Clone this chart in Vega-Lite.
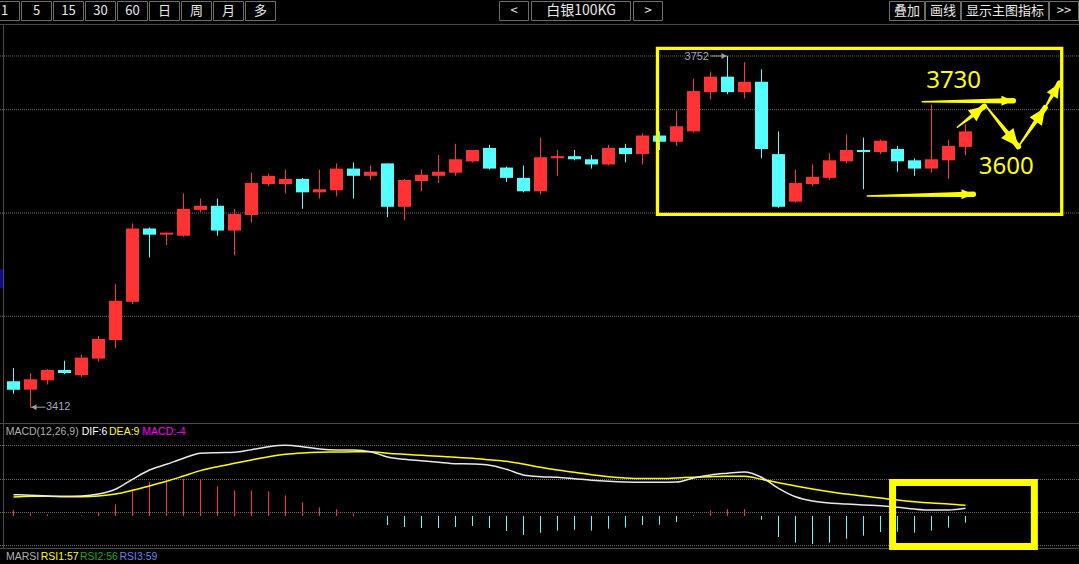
{
"$schema": "https://vega.github.io/schema/vega-lite/v6.json",
"width": 1079, "height": 564, "autosize": {"type": "none"}, "padding": 0,
"background": "#000000",
"config": {"view": {"stroke": null}, "axis": {"disable": true}, "legend": {"disable": true}},
"datasets": {
"candles": [
{"i":0,"o":3437,"h":3450,"l":3425,"c":3429},{"i":1,"o":3429,"h":3445,"l":3412,"c":3439},{"i":2,"o":3438,"h":3449,"l":3434,"c":3448},{"i":3,"o":3448,"h":3457,"l":3444,"c":3445},{"i":4,"o":3443,"h":3463,"l":3441,"c":3460},{"i":5,"o":3459,"h":3481,"l":3456,"c":3478},{"i":6,"o":3477,"h":3531,"l":3469,"c":3515},{"i":7,"o":3514,"h":3590,"l":3512,"c":3585},{"i":8,"o":3585,"h":3586,"l":3557,"c":3579},{"i":9,"o":3579,"h":3581,"l":3569,"c":3581},
{"i":10,"o":3578,"h":3619,"l":3577,"c":3604},{"i":11,"o":3603,"h":3614,"l":3601,"c":3607},{"i":12,"o":3607,"h":3614,"l":3578,"c":3583},{"i":13,"o":3583,"h":3604,"l":3559,"c":3599},{"i":14,"o":3598,"h":3639,"l":3591,"c":3629},{"i":15,"o":3628,"h":3638,"l":3626,"c":3636},{"i":16,"o":3628,"h":3642,"l":3619,"c":3633},{"i":17,"o":3633,"h":3634,"l":3604,"c":3620},{"i":18,"o":3620,"h":3642,"l":3614,"c":3623},{"i":19,"o":3622,"h":3648,"l":3616,"c":3643},
{"i":20,"o":3643,"h":3649,"l":3614,"c":3636},{"i":21,"o":3636,"h":3646,"l":3632,"c":3640},{"i":22,"o":3648,"h":3648,"l":3596,"c":3606},{"i":23,"o":3606,"h":3633,"l":3593,"c":3632},{"i":24,"o":3631,"h":3642,"l":3621,"c":3637},{"i":25,"o":3636,"h":3656,"l":3629,"c":3640},{"i":26,"o":3639,"h":3667,"l":3636,"c":3652},{"i":27,"o":3650,"h":3661,"l":3649,"c":3661},{"i":28,"o":3663,"h":3666,"l":3642,"c":3643},{"i":29,"o":3644,"h":3645,"l":3630,"c":3634},
{"i":30,"o":3634,"h":3646,"l":3620,"c":3621},{"i":31,"o":3621,"h":3673,"l":3618,"c":3654},{"i":32,"o":3653,"h":3661,"l":3636,"c":3655},{"i":33,"o":3655,"h":3661,"l":3651,"c":3652},{"i":34,"o":3652,"h":3656,"l":3643,"c":3647},{"i":35,"o":3647,"h":3666,"l":3646,"c":3663},{"i":36,"o":3663,"h":3667,"l":3649,"c":3657},{"i":37,"o":3657,"h":3677,"l":3647,"c":3675},{"i":38,"o":3675,"h":3679,"l":3661,"c":3669},{"i":39,"o":3669,"h":3699,"l":3665,"c":3684},
{"i":40,"o":3679,"h":3730,"l":3678,"c":3718},{"i":41,"o":3717,"h":3737,"l":3710,"c":3732},{"i":42,"o":3732,"h":3752,"l":3715,"c":3717},{"i":43,"o":3717,"h":3746,"l":3711,"c":3727},{"i":44,"o":3727,"h":3739,"l":3653,"c":3662},{"i":45,"o":3657,"h":3679,"l":3605,"c":3606},{"i":46,"o":3611,"h":3642,"l":3610,"c":3629},{"i":47,"o":3628,"h":3647,"l":3626,"c":3635},{"i":48,"o":3634,"h":3658,"l":3632,"c":3651},{"i":49,"o":3650,"h":3676,"l":3648,"c":3661},
{"i":50,"o":3661,"h":3673,"l":3623,"c":3659},{"i":51,"o":3659,"h":3671,"l":3657,"c":3670},{"i":52,"o":3662,"h":3665,"l":3640,"c":3650},{"i":53,"o":3651,"h":3653,"l":3636,"c":3643},{"i":54,"o":3643,"h":3705,"l":3639,"c":3652},{"i":55,"o":3651,"h":3671,"l":3633,"c":3665},{"i":56,"o":3664,"h":3686,"l":3656,"c":3679}],
"macd": [
{"i":0,"dif":17.8,"dea":15.8,"macd":5.0},{"i":1,"dif":17.3,"dea":16.4,"macd":2.2},{"i":2,"dif":16.7,"dea":16.4,"macd":1.4},{"i":3,"dif":16.4,"dea":16.1,"macd":0.3},{"i":4,"dif":16.7,"dea":16.1,"macd":0.6},{"i":5,"dif":18.3,"dea":16.7,"macd":3.3},{"i":6,"dif":22.3,"dea":18.3,"macd":9.7},{"i":7,"dif":30.6,"dea":21.4,"macd":22.2},{"i":8,"dif":38.3,"dea":25.0,"macd":28.3},{"i":9,"dif":43.1,"dea":28.9,"macd":29.7},
{"i":10,"dif":48.1,"dea":33.3,"macd":31.1},{"i":11,"dif":52.3,"dea":37.8,"macd":30.6},{"i":12,"dif":52.8,"dea":41.1,"macd":24.7},{"i":13,"dif":53.1,"dea":43.9,"macd":21.4},{"i":14,"dif":55.3,"dea":46.7,"macd":21.4},{"i":15,"dif":57.8,"dea":49.4,"macd":20.6},{"i":16,"dif":58.9,"dea":51.4,"macd":17.2},{"i":17,"dif":57.8,"dea":52.5,"macd":11.4},{"i":18,"dif":55.8,"dea":53.1,"macd":7.2},{"i":19,"dif":55.0,"dea":53.3,"macd":5.6},
{"i":20,"dif":55.0,"dea":53.6,"macd":2.2},{"i":21,"dif":53.6,"dea":53.6,"macd":0},{"i":22,"dif":49.2,"dea":52.3,"macd":-7.5},{"i":23,"dif":47.3,"dea":51.4,"macd":-9.2},{"i":24,"dif":46.1,"dea":50.6,"macd":-10.0},{"i":25,"dif":44.8,"dea":49.8,"macd":-10.0},{"i":26,"dif":43.6,"dea":48.9,"macd":-9.2},{"i":27,"dif":43.3,"dea":48.1,"macd":-8.3},{"i":28,"dif":42.3,"dea":46.9,"macd":-10.0},{"i":29,"dif":38.9,"dea":45.6,"macd":-12.5},
{"i":30,"dif":34.2,"dea":43.3,"macd":-15.8},{"i":31,"dif":32.8,"dea":40.6,"macd":-13.9},{"i":32,"dif":32.3,"dea":38.3,"macd":-12.2},{"i":33,"dif":31.1,"dea":36.4,"macd":-11.4},{"i":34,"dif":29.8,"dea":34.4,"macd":-12.2},{"i":35,"dif":28.9,"dea":32.8,"macd":-10.6},{"i":36,"dif":28.3,"dea":31.7,"macd":-9.7},{"i":37,"dif":28.1,"dea":31.2,"macd":-7.5},{"i":38,"dif":28.1,"dea":31.2,"macd":-7.2},{"i":39,"dif":28.3,"dea":31.7,"macd":-5.0},
{"i":40,"dif":31.7,"dea":32.3,"macd":0.8},{"i":41,"dif":34.2,"dea":32.8,"macd":4.7},{"i":42,"dif":35.6,"dea":33.1,"macd":5.8},{"i":43,"dif":36.7,"dea":33.1,"macd":5.8},{"i":44,"dif":32.3,"dea":30.6,"macd":-3.1},{"i":45,"dif":23.1,"dea":27.8,"macd":-17.5},{"i":46,"dif":16.1,"dea":25.0,"macd":-22.2},{"i":47,"dif":12.5,"dea":22.5,"macd":-23.3},{"i":48,"dif":10.8,"dea":20.3,"macd":-22.2},{"i":49,"dif":10.0,"dea":18.3,"macd":-18.9},
{"i":50,"dif":9.2,"dea":16.7,"macd":-16.4},{"i":51,"dif":8.6,"dea":15.0,"macd":-13.3},{"i":52,"dif":7.3,"dea":13.3,"macd":-13.1},{"i":53,"dif":5.8,"dea":11.9,"macd":-13.9},{"i":54,"dif":5.0,"dea":10.8,"macd":-12.2},{"i":55,"dif":5.0,"dea":10.0,"macd":-9.7},{"i":56,"dif":6.4,"dea":8.9,"macd":-5.6}],
"priceGrid": [{"p":3752},{"p":3700},{"p":3600},{"p":3500}],
"macdGrid": [{"v":58.75},{"v":30.42},{"v":2.92},{"v":-24.58}],
"extremes": [{"kind":"low","i":1,"p":3412},{"kind":"high","i":42,"p":3752}],
"arrows": [
{"id":1,"end":"tail","i":53.46,"p":3707.7},{"id":1,"end":"tip","i":58.81,"p":3708.7},
{"id":2,"end":"tail","i":50.22,"p":3616.5},{"id":2,"end":"tip","i":56.46,"p":3618.1},
{"id":3,"end":"tail","i":55.52,"p":3683.0},{"id":3,"end":"tip","i":57.11,"p":3703.3},
{"id":4,"end":"tail","i":57.21,"p":3703.3},{"id":4,"end":"tip","i":59.11,"p":3664.2},
{"id":5,"end":"tail","i":59.11,"p":3664.2},{"id":5,"end":"tip","i":60.68,"p":3701.9},
{"id":6,"end":"tail","i":60.68,"p":3701.9},{"id":6,"end":"tip","i":61.52,"p":3725.6}],
"targets": [{"label":"3730","i":55.3,"p":3728},{"label":"3600","i":58.4,"p":3644.5}]
},
"resolve": {"scale": {"x": "independent", "y": "independent"}},
"layer": [
{
"layer": [
{"data":{"name":"priceGrid"},"mark":{"type":"rule","color":"#6a6a6a","strokeDash":[1,1],"strokeWidth":1},
 "encoding":{"y":{"field":"p","type":"quantitative","scale":{"domain":[3260.2,3806.2],"nice":false,"zero":false}}}},
{"data":{"values":[{}]},"mark":{"type":"rule","color":"#4a4a4a","strokeWidth":1},
 "encoding":{"y":{"datum":3782.5,"type":"quantitative","scale":{"domain":[3260.2,3806.2],"nice":false,"zero":false}}}},
{"data":{"values":[{}]},"mark":{"type":"rule","color":"#4a4a4a","strokeWidth":1},
 "encoding":{"y":{"datum":3396.2,"type":"quantitative","scale":{"domain":[3260.2,3806.2],"nice":false,"zero":false}}}},
{"data":{"values":[{}]},"mark":{"type":"rule","color":"#4a4a4a","strokeWidth":1},
 "encoding":{"x":{"datum":-0.5882,"type":"quantitative","scale":{"domain":[-0.7941,62.676],"nice":false,"zero":false,"padding":0}},
  "y":{"datum":3782.5,"type":"quantitative","scale":{"domain":[3260.2,3806.2],"nice":false,"zero":false}},"y2":{"datum":3275.2}}},
{"data":{"values":[{}]},"mark":{"type":"rect","color":"#0b0b8c"},
 "encoding":{"x":{"datum":-0.7941,"type":"quantitative","scale":{"domain":[-0.7941,62.676],"nice":false,"zero":false,"padding":0}},"x2":{"datum":-0.6176},
  "y":{"datum":3545.8,"type":"quantitative","scale":{"domain":[3260.2,3806.2],"nice":false,"zero":false}},"y2":{"datum":3527.4}}},
{"data":{"name":"candles"},"mark":{"type":"rule","strokeWidth":1},
 "encoding":{"x":{"field":"i","type":"quantitative","scale":{"domain":[-0.7941,62.676],"nice":false,"zero":false,"padding":0}},
  "y":{"field":"l","type":"quantitative","scale":{"domain":[3260.2,3806.2],"nice":false,"zero":false}},"y2":{"field":"h"},
  "color":{"condition":{"test":"datum.c > datum.o","value":"#ff3333"},"value":"#55ffff"}}},
{"data":{"name":"candles"},"mark":{"type":"bar","width":13},
 "encoding":{"x":{"field":"i","type":"quantitative","scale":{"domain":[-0.7941,62.676],"nice":false,"zero":false,"padding":0}},
  "y":{"field":"o","type":"quantitative","scale":{"domain":[3260.2,3806.2],"nice":false,"zero":false}},"y2":{"field":"c"},
  "color":{"condition":{"test":"datum.c > datum.o","value":"#ff3333"},"value":"#55ffff"}}},
{"data":{"name":"extremes"},"transform":[{"filter":"datum.kind == 'low'"}],
 "encoding":{"x":{"field":"i","type":"quantitative","scale":{"domain":[-0.7941,62.676],"nice":false,"zero":false,"padding":0}},
  "y":{"field":"p","type":"quantitative","scale":{"domain":[3260.2,3806.2],"nice":false,"zero":false}}},
 "layer":[
  {"mark":{"type":"rule","color":"#a0a0a0","strokeWidth":1},"encoding":{"x2":{"datum":1.882}}},
  {"mark":{"type":"point","shape":"M0,0L1,-0.6L1,0.6Z","size":100,"filled":true,"opacity":1,"color":"#a0a0a0","xOffset":1}},
  {"mark":{"type":"text","color":"#a4a8b4","font":"Liberation Sans","fontSize":11,"align":"left","baseline":"middle","dx":15.5},"encoding":{"text":{"field":"p","type":"quantitative","format":"d"}}}
 ]},
{"data":{"name":"extremes"},"transform":[{"filter":"datum.kind == 'high'"}],
 "encoding":{"x":{"field":"i","type":"quantitative","scale":{"domain":[-0.7941,62.676],"nice":false,"zero":false,"padding":0}},
  "y":{"field":"p","type":"quantitative","scale":{"domain":[3260.2,3806.2],"nice":false,"zero":false}}},
 "layer":[
  {"mark":{"type":"rule","color":"#a0a0a0","strokeWidth":1},"encoding":{"x2":{"datum":41.0}}},
  {"mark":{"type":"point","shape":"M0,0L-1,-0.6L-1,0.6Z","size":100,"filled":true,"opacity":1,"color":"#a0a0a0","xOffset":-1}},
  {"mark":{"type":"text","color":"#a4a8b4","font":"Liberation Sans","fontSize":11,"align":"right","baseline":"middle","dx":-18.5,"dy":1.5},"encoding":{"text":{"field":"p","type":"quantitative","format":"d"}}}
 ]},
{"data":{"values":[{}]},"mark":{"type":"rect","fillOpacity":0,"stroke":"#ffff00","strokeWidth":3.3},
 "encoding":{"x":{"datum":37.88,"type":"quantitative","scale":{"domain":[-0.7941,62.676],"nice":false,"zero":false,"padding":0}},"x2":{"datum":61.66},
  "y":{"datum":3759.4,"type":"quantitative","scale":{"domain":[3260.2,3806.2],"nice":false,"zero":false}},"y2":{"datum":3598.7}}},
{"data":{"name":"arrows"},"mark":{"type":"trail","color":"#ffff00"},
 "encoding":{"x":{"field":"i","type":"quantitative","scale":{"domain":[-0.7941,62.676],"nice":false,"zero":false,"padding":0}},
  "y":{"field":"p","type":"quantitative","scale":{"domain":[3260.2,3806.2],"nice":false,"zero":false}},
  "detail":{"field":"id","type":"nominal"},"order":{"field":"end","type":"ordinal"},
  "size":{"field":"end","type":"ordinal","scale":{"domain":["tail","tip"],"range":[1.5,5.5]}}}},
{"data":{"name":"arrows"},"transform":[{"filter":"datum.end == 'tip'"}],
 "encoding":{"x":{"field":"i","type":"quantitative","scale":{"domain":[-0.7941,62.676],"nice":false,"zero":false,"padding":0}},
  "y":{"field":"p","type":"quantitative","scale":{"domain":[3260.2,3806.2],"nice":false,"zero":false}}},
 "layer":[
  {"transform":[{"filter":"datum.id <= 2"}],"mark":{"type":"point","shape":"M0,0L-0.42,1L0.42,1Z","size":560,"angle":90,"filled":true,"opacity":1,"color":"#ffff00"}},
  {"transform":[{"filter":"datum.id == 3"}],"mark":{"type":"point","shape":"M0,0L-0.45,1L0.45,1Z","size":950,"angle":52,"filled":true,"opacity":1,"color":"#ffff00"}},
  {"transform":[{"filter":"datum.id == 4"}],"mark":{"type":"point","shape":"M0,0L-0.45,1L0.45,1Z","size":1250,"angle":141,"filled":true,"opacity":1,"color":"#ffff00"}},
  {"transform":[{"filter":"datum.id == 5"}],"mark":{"type":"point","shape":"M0,0L-0.45,1L0.45,1Z","size":1100,"angle":34,"filled":true,"opacity":1,"color":"#ffff00"}},
  {"transform":[{"filter":"datum.id == 6"}],"mark":{"type":"point","shape":"M0,0L-0.45,1L0.45,1Z","size":800,"angle":30,"filled":true,"opacity":1,"color":"#ffff00"}}
 ]},
{"data":{"name":"targets"},"mark":{"type":"text","color":"#ffff00","font":"Noto Sans","fontSize":24,"align":"center","baseline":"middle"},
 "encoding":{"x":{"field":"i","type":"quantitative","scale":{"domain":[-0.7941,62.676],"nice":false,"zero":false,"padding":0}},
  "y":{"field":"p","type":"quantitative","scale":{"domain":[3260.2,3806.2],"nice":false,"zero":false}},
  "text":{"field":"label","type":"nominal"}}}
]
},
{
"layer": [
{"data":{"name":"macdGrid"},"mark":{"type":"rule","color":"#6a6a6a","strokeDash":[1,1],"strokeWidth":1},
 "encoding":{"y":{"field":"v","type":"quantitative","scale":{"domain":[-40,430],"nice":false,"zero":false}}}},
{"data":{"values":[{}]},"mark":{"type":"rule","color":"#4a4a4a","strokeWidth":1},
 "encoding":{"y":{"datum":-27.08,"type":"quantitative","scale":{"domain":[-40,430],"nice":false,"zero":false}}}},
{"data":{"name":"macd"},"mark":{"type":"rule","strokeWidth":1},
 "encoding":{"x":{"field":"i","type":"quantitative","scale":{"domain":[-0.7941,62.676],"nice":false,"zero":false,"padding":0}},
  "y":{"field":"macd","type":"quantitative","scale":{"domain":[-40,430],"nice":false,"zero":false}},"y2":{"datum":0},
  "color":{"condition":{"test":"datum.macd >= 0","value":"#ff3333"},"value":"#55ffff"}}},
{"data":{"name":"macd"},"mark":{"type":"line","color":"#ffff00","strokeWidth":1.5,"interpolate":"monotone"},
 "encoding":{"x":{"field":"i","type":"quantitative","scale":{"domain":[-0.7941,62.676],"nice":false,"zero":false,"padding":0}},
  "y":{"field":"dea","type":"quantitative","scale":{"domain":[-40,430],"nice":false,"zero":false}}}},
{"data":{"name":"macd"},"mark":{"type":"line","color":"#e8e8e8","strokeWidth":1.5,"interpolate":"monotone"},
 "encoding":{"x":{"field":"i","type":"quantitative","scale":{"domain":[-0.7941,62.676],"nice":false,"zero":false,"padding":0}},
  "y":{"field":"dif","type":"quantitative","scale":{"domain":[-40,430],"nice":false,"zero":false}}}},
{"data":{"values":[{}]},"mark":{"type":"rect","fillOpacity":0,"stroke":"#ffff00","strokeWidth":7},
 "encoding":{"x":{"datum":51.71,"type":"quantitative","scale":{"domain":[-0.7941,62.676],"nice":false,"zero":false,"padding":0}},"x2":{"datum":60.05},
  "y":{"datum":27.9,"type":"quantitative","scale":{"domain":[-40,430],"nice":false,"zero":false}},"y2":{"datum":-25.4}}},
{"data":{"values":[{}]},"mark":{"type":"text","text":"MACD(12,26,9)","color":"#b0b0b0","font":"Liberation Sans","fontSize":10.5,"align":"left","baseline":"middle"},
 "encoding":{"x":{"datum":-0.459,"type":"quantitative","scale":{"domain":[-0.7941,62.676],"nice":false,"zero":false,"padding":0}},"y":{"datum":69.75,"type":"quantitative","scale":{"domain":[-40,430],"nice":false,"zero":false}}}},
{"data":{"values":[{}]},"mark":{"type":"text","text":"DIF:6","color":"#ffffff","font":"Liberation Sans","fontSize":10.5,"align":"left","baseline":"middle"},
 "encoding":{"x":{"datum":4.01,"type":"quantitative","scale":{"domain":[-0.7941,62.676],"nice":false,"zero":false,"padding":0}},"y":{"datum":69.75,"type":"quantitative","scale":{"domain":[-40,430],"nice":false,"zero":false}}}},
{"data":{"values":[{}]},"mark":{"type":"text","text":"DEA:9","color":"#ffff00","font":"Liberation Sans","fontSize":10.5,"align":"left","baseline":"middle"},
 "encoding":{"x":{"datum":5.62,"type":"quantitative","scale":{"domain":[-0.7941,62.676],"nice":false,"zero":false,"padding":0}},"y":{"datum":69.75,"type":"quantitative","scale":{"domain":[-40,430],"nice":false,"zero":false}}}},
{"data":{"values":[{}]},"mark":{"type":"text","text":"MACD:-4","color":"#ff00ff","font":"Liberation Sans","fontSize":10.5,"align":"left","baseline":"middle"},
 "encoding":{"x":{"datum":7.58,"type":"quantitative","scale":{"domain":[-0.7941,62.676],"nice":false,"zero":false,"padding":0}},"y":{"datum":69.75,"type":"quantitative","scale":{"domain":[-40,430],"nice":false,"zero":false}}}},
{"data":{"values":[{}]},"mark":{"type":"text","text":"MARSI","color":"#b0b0b0","font":"Liberation Sans","fontSize":10.5,"align":"left","baseline":"middle"},
 "encoding":{"x":{"datum":-0.447,"type":"quantitative","scale":{"domain":[-0.7941,62.676],"nice":false,"zero":false,"padding":0}},"y":{"datum":-34.4,"type":"quantitative","scale":{"domain":[-40,430],"nice":false,"zero":false}}}},
{"data":{"values":[{}]},"mark":{"type":"text","text":"RSI1:57","color":"#ffff00","font":"Liberation Sans","fontSize":10.5,"align":"left","baseline":"middle"},
 "encoding":{"x":{"datum":1.6,"type":"quantitative","scale":{"domain":[-0.7941,62.676],"nice":false,"zero":false,"padding":0}},"y":{"datum":-34.4,"type":"quantitative","scale":{"domain":[-40,430],"nice":false,"zero":false}}}},
{"data":{"values":[{}]},"mark":{"type":"text","text":"RSI2:56","color":"#1fa81f","font":"Liberation Sans","fontSize":10.5,"align":"left","baseline":"middle"},
 "encoding":{"x":{"datum":3.906,"type":"quantitative","scale":{"domain":[-0.7941,62.676],"nice":false,"zero":false,"padding":0}},"y":{"datum":-34.4,"type":"quantitative","scale":{"domain":[-40,430],"nice":false,"zero":false}}}},
{"data":{"values":[{}]},"mark":{"type":"text","text":"RSI3:59","color":"#7080f0","font":"Liberation Sans","fontSize":10.5,"align":"left","baseline":"middle"},
 "encoding":{"x":{"datum":6.235,"type":"quantitative","scale":{"domain":[-0.7941,62.676],"nice":false,"zero":false,"padding":0}},"y":{"datum":-34.4,"type":"quantitative","scale":{"domain":[-40,430],"nice":false,"zero":false}}}}
]
},
{"data":{"values":[{"label":"1"},{"label":"5"},{"label":"15"},{"label":"30"},{"label":"60"},{"label":"日"},{"label":"周"},{"label":"月"},{"label":"多"}]},
 "encoding":{"x":{"field":"label","type":"nominal","sort":null,"scale":{"type":"band","domain":["1","5","15","30","60","日","周","月","多"],"range":[-10.5,275.5],"paddingInner":0.0625,"paddingOuter":0,"round":false}},
  "y":{"datum":"btn","type":"nominal","scale":{"type":"band","domain":["btn"],"range":[1.5,20.5],"paddingInner":0,"paddingOuter":0,"round":false}}},
 "layer":[{"mark":{"type":"rect","fillOpacity":0,"stroke":"#6e6e6e","strokeWidth":1}},
  {"mark":{"type":"text","color":"#e8e8e8","font":"Noto Sans CJK SC","fontSize":13,"align":"center","baseline":"middle"},"encoding":{"text":{"field":"label","type":"nominal"}}}]},
{"data":{"values":[{"label":"<"},{"label":">"}]},
 "encoding":{"x":{"field":"label","type":"nominal","sort":null,"scale":{"type":"band","domain":["<",">"],"range":[499.5,662.5],"paddingInner":0.7836,"paddingOuter":0,"round":false}},
  "y":{"datum":"btn","type":"nominal","scale":{"type":"band","domain":["btn"],"range":[1.5,20.5],"paddingInner":0,"paddingOuter":0,"round":false}}},
 "layer":[{"mark":{"type":"rect","fillOpacity":0,"stroke":"#6e6e6e","strokeWidth":1}},
  {"mark":{"type":"text","color":"#e8e8e8","font":"Noto Sans CJK SC","fontSize":13,"align":"center","baseline":"middle"},"encoding":{"text":{"field":"label","type":"nominal"}}}]},
{"data":{"values":[{"label":"白银100KG"}]},
 "encoding":{"x":{"field":"label","type":"nominal","scale":{"type":"band","domain":["白银100KG"],"range":[531.5,630.5],"paddingInner":0,"paddingOuter":0,"round":false}},
  "y":{"datum":"btn","type":"nominal","scale":{"type":"band","domain":["btn"],"range":[1.5,20.5],"paddingInner":0,"paddingOuter":0,"round":false}}},
 "layer":[{"mark":{"type":"rect","fillOpacity":0,"stroke":"#6e6e6e","strokeWidth":1}},
  {"mark":{"type":"text","color":"#e8e8e8","font":"Noto Sans CJK SC","fontSize":14,"align":"center","baseline":"middle"},"encoding":{"text":{"field":"label","type":"nominal"}}}]},
{"data":{"values":[{"label":"叠加"},{"label":"画线"}]},
 "encoding":{"x":{"field":"label","type":"nominal","sort":null,"scale":{"type":"band","domain":["叠加","画线"],"range":[889.5,960.5],"paddingInner":0.02778,"paddingOuter":0,"round":false}},
  "y":{"datum":"btn","type":"nominal","scale":{"type":"band","domain":["btn"],"range":[1.5,20.5],"paddingInner":0,"paddingOuter":0,"round":false}}},
 "layer":[{"mark":{"type":"rect","fillOpacity":0,"stroke":"#6e6e6e","strokeWidth":1}},
  {"mark":{"type":"text","color":"#e8e8e8","font":"Noto Sans CJK SC","fontSize":13,"align":"center","baseline":"middle"},"encoding":{"text":{"field":"label","type":"nominal"}}}]},
{"data":{"values":[{"label":"显示主图指标"}]},
 "encoding":{"x":{"field":"label","type":"nominal","scale":{"type":"band","domain":["显示主图指标"],"range":[961.5,1048.5],"paddingInner":0,"paddingOuter":0,"round":false}},
  "y":{"datum":"btn","type":"nominal","scale":{"type":"band","domain":["btn"],"range":[1.5,20.5],"paddingInner":0,"paddingOuter":0,"round":false}}},
 "layer":[{"mark":{"type":"rect","fillOpacity":0,"stroke":"#6e6e6e","strokeWidth":1}},
  {"mark":{"type":"text","color":"#e8e8e8","font":"Noto Sans CJK SC","fontSize":13,"align":"center","baseline":"middle"},"encoding":{"text":{"field":"label","type":"nominal"}}}]},
{"data":{"values":[{"label":">>"}]},
 "encoding":{"x":{"field":"label","type":"nominal","scale":{"type":"band","domain":[">>"],"range":[1049.5,1078.5],"paddingInner":0,"paddingOuter":0,"round":false}},
  "y":{"datum":"btn","type":"nominal","scale":{"type":"band","domain":["btn"],"range":[1.5,20.5],"paddingInner":0,"paddingOuter":0,"round":false}}},
 "layer":[{"mark":{"type":"rect","fillOpacity":0,"stroke":"#6e6e6e","strokeWidth":1}},
  {"mark":{"type":"text","color":"#e8e8e8","font":"Noto Sans CJK SC","fontSize":13,"align":"center","baseline":"middle"},"encoding":{"text":{"field":"label","type":"nominal"}}}]}
]
}
